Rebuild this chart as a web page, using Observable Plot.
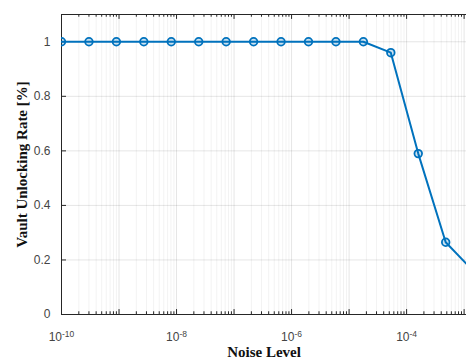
<!DOCTYPE html>
<html>
<head>
<meta charset="utf-8">
<script src="https://cdn.jsdelivr.net/npm/d3@7"></script>
<script src="https://cdn.jsdelivr.net/npm/@observablehq/plot@0.6"></script>
<style>
  html, body { margin: 0; padding: 0; background: #fff; overflow: hidden; }
</style>
</head>
<body>
<div id="chart"></div>
<script>
// Data
const noiseLevels = [1e-10, 3e-10, 9e-10, 2.7e-9, 8.1e-9, 2.43e-8, 7.29e-8, 2.187e-7,
  6.561e-7, 1.9683e-6, 5.9049e-6, 1.77147e-5, 5.31441e-5, 1.594323e-4, 4.782969e-4, 1.4348907e-3];
const unlockRates = [1, 1, 1, 1, 1, 1, 1, 1, 1, 1, 1, 1, 0.96, 0.59, 0.265, 0.16];
const xTickValues = [1e-10, 1e-8, 1e-6, 1e-4];
const yTickValues = [0, 0.2, 0.4, 0.6, 0.8, 1];
const yTickLabels = ["0", "0.2", "0.4", "0.6", "0.8", "1"];
const xLabel = "Noise Level";
const yLabel = "Vault Unlocking Rate [%]";

const data = noiseLevels.map((x, i) => ({x, y: unlockRates[i]}));

const xDomain = [1e-10, 1.1e-3];
const yDomain = [0, 1.1];

// decade and minor log positions for grid / ticks
const decades = d3.range(-10, -2).map(e => Math.pow(10, e));
const minors = [];
for (const d of decades) for (let m = 2; m <= 9; m++) { const v = m * d; if (v <= xDomain[1]) minors.push(v); }
const majorsIn = decades.filter(v => v <= xDomain[1]);

const axisColor = "#262626";
const tickLen = 0.018; // in y data units
const tickLenMinor = 0.01;
const yTickX2 = Math.pow(10, -10 + 5 / 57.5);
const serif = "'Liberation Serif', 'Times New Roman', serif";

const chart = Plot.plot({
  width: 466,
  height: 364,
  marginLeft: 61,
  marginRight: 0,
  marginTop: 14,
  marginBottom: 50,
  style: {background: "#fff", fontFamily: "'Liberation Sans', Arial, sans-serif", fontSize: "12px", color: "#333"},
  x: {type: "log", domain: xDomain},
  y: {domain: yDomain},
  marks: [
    // grid
    Plot.ruleX(minors, {stroke: "#000", strokeOpacity: 0.05, strokeWidth: 1}),
    Plot.ruleX(majorsIn, {stroke: "#000", strokeOpacity: 0.1, strokeWidth: 1}),
    Plot.ruleY(yTickValues.slice(1), {stroke: "#000", strokeOpacity: 0.1, strokeWidth: 1}),
    // axes with labels only
    Plot.axisX(xTickValues, {tickSize: 0, tickPadding: 18, tickFormat: d => "10^" + Math.round(Math.log10(d)), label: null, fill: "#444"}),
    Plot.axisY(yTickValues, {tickSize: 0, tickPadding: 11, tickFormat: (d, i) => yTickLabels[i], label: null, fill: "#444"}),
    // frame lines
    Plot.ruleX([xDomain[0]], {stroke: axisColor, strokeWidth: 1}),
    Plot.ruleY([0, yDomain[1]], {stroke: axisColor, strokeWidth: 1}),
    // inward ticks
    Plot.ruleX(majorsIn, {y1: 0, y2: tickLen, stroke: axisColor}),
    Plot.ruleX(majorsIn, {y1: yDomain[1], y2: yDomain[1] - tickLen, stroke: axisColor}),
    Plot.ruleX(minors, {y1: 0, y2: tickLenMinor, stroke: axisColor}),
    Plot.ruleX(minors, {y1: yDomain[1], y2: yDomain[1] - tickLenMinor, stroke: axisColor}),
    Plot.ruleY(yTickValues, {x1: xDomain[0], x2: yTickX2, stroke: axisColor}),
    // data
    Plot.line(data, {x: "x", y: "y", stroke: "#0072BD", strokeWidth: 2, clip: true}),
    Plot.dot(data, {x: "x", y: "y", r: 3.8, stroke: "#0072BD", strokeWidth: 1.8, fill: "#0072BD", fillOpacity: 0.2, clip: true}),
    // axis titles
    Plot.text([xLabel], {frameAnchor: "bottom", dy: 42, textAnchor: "middle", fontFamily: serif, fontWeight: "bold", fontSize: 15, fill: "#111"}),
    Plot.text([yLabel], {frameAnchor: "left", dx: -39, rotate: -90, textAnchor: "middle", fontFamily: serif, fontWeight: "bold", fontSize: 15, fill: "#111"})
  ]
});

// superscript exponents on x tick labels
d3.select(chart).selectAll("g[aria-label='x-axis tick label'] text").each(function() {
  const t = d3.select(this);
  const s = t.text();
  if (s.startsWith("10^")) {
    const exp = s.slice(3);
    t.text("");
    t.append("tspan").text("10");
    t.append("tspan").attr("dy", "-0.45em").attr("font-size", "8.5px").text(exp);
  }
});

document.getElementById("chart").appendChild(chart);
</script>
</body>
</html>
